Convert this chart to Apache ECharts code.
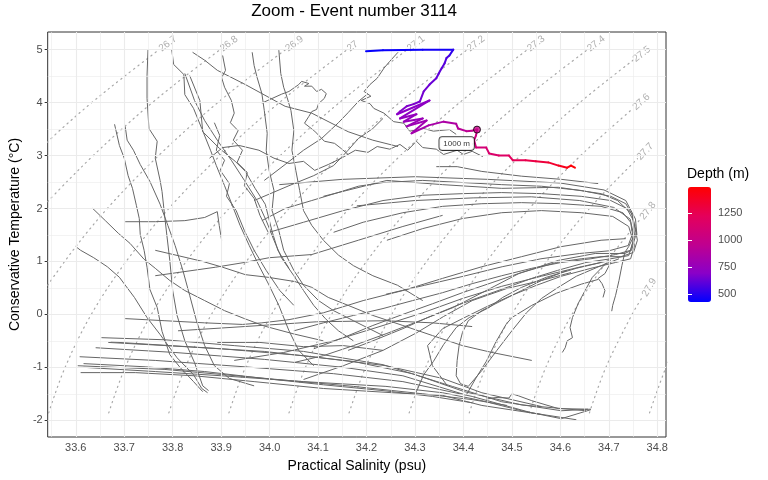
<!DOCTYPE html>
<html>
<head>
<meta charset="utf-8">
<script src="https://cdn.jsdelivr.net/npm/echarts@6/dist/echarts.min.js"></script>
<style>
  html, body { margin: 0; background: #fff; }
  #main { width: 768px; height: 480px; }
</style>
</head>
<body>
<div id="main"></div>
<script>
// axis ticks
const xTicks = [33.6, 33.7, 33.8, 33.9, 34.0, 34.1, 34.2, 34.3, 34.4, 34.5, 34.6, 34.7, 34.8];
const xMinor = [33.55, 33.65, 33.75, 33.85, 33.95, 34.05, 34.15, 34.25, 34.35, 34.45, 34.55, 34.65, 34.75];
const yTicks = [-2, -1, 0, 1, 2, 3, 4, 5];
const yMinor = [-1.5, -0.5, 0.5, 1.5, 2.5, 3.5, 4.5];
const depthTicks = [500, 750, 1000, 1250];

// density isopleths (sigma0)
const contourLevels = ['26.7', '26.8', '26.9', '27', '27.1', '27.2', '27.3', '27.4', '27.5', '27.6', '27.7', '27.8', '27.9', '28'];
const contourLines = [
  [[33.541, 3.25], [33.570, 3.5], [33.633, 4.0], [33.701, 4.5], [33.772, 5.0]],
  [[33.542, 2.13], [33.581, 2.5], [33.636, 3.0], [33.695, 3.5], [33.758, 4.0], [33.826, 4.5], [33.898, 5.0]],
  [[33.542, 0.55], [33.577, 1.0], [33.619, 1.5], [33.665, 2.0], [33.716, 2.5], [33.771, 3.0], [33.830, 3.5], [33.893, 4.0], [33.961, 4.5], [34.033, 5.0]],
  [[33.544, -1.86], [33.578, -1], [33.632, 0], [33.704, 1], [33.792, 2], [33.898, 3], [34.020, 4], [34.160, 5.0]],
  [[33.668, -1.86], [33.702, -1], [33.756, 0], [33.828, 1], [33.916, 2], [34.022, 3], [34.144, 4], [34.284, 5.0]],
  [[33.792, -1.86], [33.826, -1], [33.880, 0], [33.952, 1], [34.040, 2], [34.146, 3], [34.268, 4], [34.408, 5.0]],
  [[33.916, -1.86], [33.950, -1], [34.004, 0], [34.076, 1], [34.164, 2], [34.270, 3], [34.392, 4], [34.532, 5.0]],
  [[34.040, -1.86], [34.074, -1], [34.128, 0], [34.200, 1], [34.288, 2], [34.394, 3], [34.516, 4], [34.656, 5.0]],
  [[34.164, -1.86], [34.198, -1], [34.252, 0], [34.324, 1], [34.412, 2], [34.518, 3], [34.640, 4], [34.750, 4.8]],
  [[34.288, -1.86], [34.322, -1], [34.376, 0], [34.448, 1], [34.536, 2], [34.642, 3], [34.750, 3.89]],
  [[34.412, -1.86], [34.446, -1], [34.500, 0], [34.572, 1], [34.660, 2], [34.759, 2.94]],
  [[34.536, -1.86], [34.570, -1], [34.624, 0], [34.696, 1], [34.766, 1.81]],
  [[34.660, -1.86], [34.694, -1], [34.748, 0], [34.771, 0.35]],
  [[34.784, -1.86], [34.818, -1], [34.840, -0.6]]
];

// other profiles (grey), salinity / temperature pairs
const greyProfiles = [
  [[33.749, 5.0], [33.747, 4.51], [33.747, 4.08], [33.751, 3.51], [33.768, 3.27], [33.764, 2.95], [33.774, 2.53], [33.778, 2.32], [33.784, 1.81], [33.788, 1.49], [33.794, 1.02], [33.800, 0.45], [33.809, -0.02], [33.825, -0.50], [33.845, -0.91], [33.862, -1.35], [33.874, -1.44]],
  [[33.680, 3.59], [33.682, 3.51], [33.690, 3.19], [33.700, 2.95], [33.708, 2.62], [33.717, 2.38], [33.725, 2.06], [33.731, 1.81], [33.733, 1.51], [33.741, 1.21], [33.747, 0.89], [33.753, 0.47], [33.768, 0.13], [33.778, -0.32], [33.794, -0.76], [33.815, -1.00], [33.843, -1.27], [33.862, -1.46]],
  [[33.702, 3.55], [33.706, 3.29], [33.719, 3.10], [33.733, 2.83], [33.753, 2.51], [33.774, 2.08], [33.790, 1.68], [33.805, 1.30], [33.821, 0.83], [33.835, 0.36], [33.849, -0.12], [33.866, -0.59], [33.886, -0.97], [33.917, -1.21], [33.968, -1.35]],
  [[33.798, 5.0], [33.802, 4.72], [33.823, 4.53], [33.825, 4.15], [33.843, 3.89], [33.860, 3.51], [33.878, 3.10], [33.890, 2.81], [33.907, 2.43], [33.923, 2.06], [33.939, 1.68], [33.958, 1.30], [33.978, 0.92], [33.999, 0.55], [34.019, 0.17], [34.040, -0.31], [34.060, -0.68], [34.091, -0.97]],
  [[33.825, 4.55], [33.845, 4.04], [33.866, 3.66], [33.892, 3.29], [33.921, 2.91], [33.948, 2.53], [33.974, 2.15], [33.993, 1.77], [34.009, 1.40], [34.025, 1.06], [34.050, 0.73], [34.070, 0.45], [34.091, 0.17], [34.115, -0.08], [34.142, -0.31], [34.173, -0.50]],
  [[33.835, 4.51], [33.856, 4.04], [33.862, 3.45], [33.897, 3.13], [33.929, 2.89], [33.950, 2.70], [33.970, 2.38], [33.991, 2.08], [34.005, 1.57], [34.017, 1.21], [34.040, 0.87]],
  [[33.964, 4.95], [33.968, 4.70], [33.974, 4.48], [33.984, 4.17], [33.989, 3.85], [33.995, 3.42], [33.993, 3.10], [33.999, 2.72], [34.009, 2.34], [34.005, 1.96], [34.019, 1.58], [34.029, 1.21], [34.050, 0.83], [34.070, 0.55], [34.101, 0.26], [34.132, 0.07], [34.173, -0.12], [34.234, -0.40]],
  [[34.019, 4.99], [34.023, 4.55], [34.029, 4.29], [34.036, 4.10], [34.044, 3.85], [34.050, 3.47], [34.046, 3.10], [34.054, 2.72], [34.062, 2.34], [34.070, 1.96], [34.087, 1.68], [34.111, 1.40], [34.142, 1.12], [34.173, 0.92], [34.213, 0.73], [34.264, 0.55], [34.316, 0.26]],
  [[33.841, 4.95], [33.866, 4.80], [33.892, 4.61], [33.950, 4.34], [34.032, 3.93], [34.087, 3.80], [34.162, 3.45], [34.213, 3.29], [34.265, 3.17]],
  [[33.876, 2.95], [33.903, 3.15], [33.937, 3.19], [33.978, 3.10], [34.009, 2.95], [34.040, 2.85], [34.070, 2.89], [34.093, 2.72], [34.121, 2.83], [34.148, 2.95], [34.177, 3.10], [34.203, 3.06], [34.222, 3.17], [34.248, 3.12], [34.269, 3.21], [34.285, 3.10], [34.303, 3.27], [34.316, 3.15], [34.344, 3.12], [34.359, 3.02], [34.387, 3.10], [34.400, 3.02], [34.418, 3.08], [34.440, 2.98]],
  [[34.265, 4.95], [34.248, 4.78], [34.236, 4.65], [34.222, 4.46], [34.207, 4.34], [34.195, 4.21], [34.209, 4.12], [34.189, 4.04], [34.207, 3.98], [34.215, 3.89], [34.236, 3.80], [34.256, 3.64], [34.277, 3.61], [34.289, 3.46], [34.318, 3.51], [34.338, 3.46], [34.371, 3.49], [34.385, 3.40]],
  [[33.984, 3.99], [34.025, 4.16], [34.040, 4.21], [34.060, 4.34], [34.066, 4.40], [34.081, 4.36], [34.072, 4.31], [34.087, 4.31], [34.097, 4.21], [34.107, 4.25], [34.117, 4.17], [34.113, 4.08], [34.101, 3.98], [34.097, 3.87], [34.087, 3.83], [34.081, 3.74], [34.072, 3.61], [34.093, 3.46], [34.113, 3.27], [34.134, 3.23], [34.148, 3.13], [34.162, 3.02]],
  [[33.903, 4.89], [33.909, 4.61], [33.901, 4.47], [33.907, 4.29], [33.921, 4.04], [33.927, 3.80], [33.919, 3.62], [33.935, 3.47], [33.925, 3.29], [33.944, 3.10], [33.933, 2.87], [33.954, 2.68], [33.948, 2.43], [33.968, 2.19], [33.980, 1.87], [33.997, 1.55]],
  [[33.886, 3.62], [33.897, 3.38], [33.890, 3.10], [33.907, 2.91], [33.898, 2.72], [33.917, 2.47], [33.911, 2.23], [33.931, 1.96], [33.948, 1.58], [33.968, 1.21], [33.993, 0.83], [34.021, 0.45], [34.050, 0.17]],
  [[33.989, 2.53], [34.032, 2.83], [34.070, 3.10], [34.107, 3.32], [34.142, 3.62], [34.162, 3.81], [34.183, 4.02], [34.203, 4.17]],
  [[33.968, 2.15], [34.040, 2.43], [34.091, 2.62], [34.132, 2.81], [34.162, 3.10], [34.183, 3.32], [34.213, 3.51], [34.234, 3.70]],
  [[33.635, 2.00], [33.661, 1.77], [33.688, 1.53], [33.712, 1.34], [33.741, 1.04], [33.764, 0.87], [33.794, 0.64], [33.825, 0.45], [33.866, 0.26], [33.907, 0.07], [33.948, -0.08], [33.989, -0.22], [34.050, -0.37], [34.111, -0.50]],
  [[33.600, 1.28], [33.610, 1.21], [33.637, 1.07], [33.665, 0.90], [33.690, 0.70], [33.721, 0.32], [33.747, -0.06], [33.774, -0.38], [33.809, -0.82], [33.843, -1.14], [33.860, -1.40], [33.872, -1.48]],
  [[33.702, 1.75], [33.764, 1.75], [33.825, 1.77], [33.866, 1.83], [33.892, 1.94], [33.896, 1.68], [33.901, 1.40]],
  [[33.616, -1.00], [33.764, -1.08], [33.901, -1.16], [34.070, -1.27], [34.240, -1.36], [34.357, -1.48], [34.438, -1.63], [34.520, -1.82], [34.602, -1.97], [34.663, -1.80]],
  [[33.604, -0.97], [33.784, -1.04], [33.968, -1.19], [34.173, -1.36], [34.316, -1.50], [34.418, -1.61], [34.490, -1.72]],
  [[33.608, -0.80], [33.764, -0.87], [33.948, -0.99], [34.132, -1.12], [34.275, -1.27], [34.418, -1.55], [34.541, -1.86], [34.633, -1.99]],
  [[33.641, -0.63], [33.805, -0.72], [33.989, -0.85], [34.152, -1.00], [34.275, -1.16], [34.404, -1.52]],
  [[33.667, -0.53], [33.825, -0.61], [33.989, -0.70], [34.173, -0.89], [34.295, -1.12], [34.402, -1.46], [34.520, -1.71], [34.653, -1.82]],
  [[33.653, -0.44], [33.784, -0.48], [33.927, -0.59], [34.070, -0.70], [34.234, -0.95], [34.377, -1.36], [34.479, -1.65], [34.602, -1.82], [34.663, -1.79]],
  [[33.616, -0.93], [33.743, -0.99], [33.866, -1.08], [33.989, -1.21], [34.111, -1.33], [34.234, -1.44], [34.336, -1.55], [34.418, -1.67]],
  [[33.610, -1.10], [33.723, -1.10], [33.845, -1.16], [33.968, -1.27], [34.111, -1.40], [34.254, -1.48], [34.357, -1.53], [34.438, -1.72], [34.561, -1.89]],
  [[33.672, -0.52], [33.901, -0.65], [34.070, -0.78], [34.240, -0.97], [34.357, -1.21], [34.438, -1.48], [34.561, -1.74]],
  [[33.811, -0.31], [33.948, -0.23], [34.097, -0.14], [34.240, -0.12], [34.336, -0.16], [34.418, -0.23]],
  [[33.892, -0.53], [33.980, -0.53], [34.070, -0.61], [34.152, -0.59], [34.234, -0.68]],
  [[34.447, -1.60], [34.467, -1.57], [34.494, -1.58], [34.500, -1.50], [34.514, -1.54], [34.541, -1.63], [34.596, -1.78], [34.657, -1.79]],
  [[34.344, 2.79], [34.387, 2.79], [34.438, 2.70], [34.520, 2.61], [34.602, 2.55], [34.678, 2.47]],
  [[33.984, 1.77], [34.032, 2.00], [34.087, 2.15], [34.134, 2.28], [34.183, 2.42], [34.234, 2.49], [34.316, 2.53], [34.398, 2.49], [34.479, 2.45], [34.561, 2.42], [34.643, 2.34], [34.704, 2.23], [34.735, 2.09], [34.749, 1.87], [34.753, 1.49], [34.745, 1.21], [34.714, 1.13], [34.663, 1.05], [34.602, 0.98], [34.541, 0.87], [34.479, 0.73], [34.418, 0.58], [34.357, 0.41], [34.295, 0.26], [34.234, 0.11], [34.173, -0.02], [34.111, -0.16], [34.050, -0.31]],
  [[33.999, 1.55], [34.070, 1.74], [34.152, 1.96], [34.234, 2.15], [34.316, 2.25], [34.398, 2.28], [34.479, 2.30], [34.561, 2.28], [34.643, 2.23], [34.704, 2.15], [34.737, 2.00], [34.751, 1.77], [34.759, 1.40], [34.751, 1.17], [34.725, 1.09], [34.684, 1.09], [34.643, 1.05], [34.592, 0.98], [34.520, 0.79], [34.459, 0.60], [34.398, 0.41], [34.336, 0.20], [34.275, 0.00], [34.213, -0.21], [34.152, -0.44], [34.091, -0.65]],
  [[34.132, 1.55], [34.193, 1.74], [34.275, 1.92], [34.357, 2.04], [34.438, 2.09], [34.520, 2.11], [34.602, 2.09], [34.684, 2.04], [34.729, 1.92], [34.745, 1.74], [34.751, 1.40], [34.741, 1.11], [34.704, 1.05], [34.653, 0.98], [34.594, 0.83], [34.541, 0.68], [34.490, 0.51], [34.438, 0.34], [34.387, 0.17], [34.326, -0.06], [34.275, -0.27], [34.213, -0.50], [34.162, -0.68]],
  [[34.242, 1.40], [34.316, 1.62], [34.398, 1.81], [34.479, 1.92], [34.561, 1.96], [34.643, 1.92], [34.708, 1.85], [34.741, 1.66], [34.753, 1.30], [34.745, 1.05], [34.714, 0.98], [34.663, 0.87], [34.602, 0.72], [34.551, 0.55], [34.500, 0.36], [34.449, 0.15], [34.398, -0.08], [34.357, -0.27], [34.326, -0.59], [34.336, -0.97], [34.367, -1.35]],
  [[34.111, 2.23], [34.242, 2.53], [34.357, 2.45], [34.479, 2.38], [34.596, 2.40], [34.684, 2.28], [34.718, 2.15], [34.747, 1.90], [34.757, 1.55], [34.747, 1.21], [34.733, 1.15], [34.672, 1.15], [34.596, 1.02], [34.514, 0.77], [34.447, 0.45], [34.379, 0.13], [34.310, -0.12], [34.242, -0.36], [34.173, -0.59], [34.111, -0.78], [34.050, -0.91]],
  [[34.020, 2.45], [34.150, 2.55], [34.300, 2.60], [34.450, 2.55], [34.600, 2.48], [34.690, 2.35], [34.735, 2.15], [34.755, 1.80], [34.758, 1.50]],
  [[34.180, 2.05], [34.300, 2.15], [34.420, 2.20], [34.540, 2.22], [34.640, 2.15], [34.710, 2.02], [34.744, 1.80], [34.750, 1.55], [34.740, 1.30], [34.700, 1.20], [34.640, 1.15], [34.560, 1.05], [34.480, 0.90], [34.400, 0.72], [34.320, 0.55], [34.240, 0.38]],
  [[34.751, 1.47], [34.741, 1.28], [34.733, 1.17], [34.727, 0.92], [34.721, 0.64], [34.714, 0.36], [34.708, 0.17], [34.706, 0.06]],
  [[34.704, 0.98], [34.692, 0.77], [34.678, 0.68], [34.686, 0.58], [34.692, 0.45], [34.688, 0.32]],
  [[34.696, 0.98], [34.666, 0.70], [34.651, 0.45], [34.637, 0.21], [34.625, -0.06], [34.620, -0.25], [34.625, -0.44], [34.614, -0.50], [34.610, -0.63], [34.604, -0.72]],
  [[34.614, 0.83], [34.561, 0.64], [34.520, 0.45], [34.479, 0.26], [34.438, 0.07], [34.410, -0.12], [34.398, -0.34], [34.391, -0.59], [34.387, -0.87], [34.385, -1.16], [34.394, -1.31], [34.410, -1.36], [34.438, -1.06], [34.469, -0.68], [34.500, -0.31], [34.530, 0.03], [34.561, 0.30], [34.592, 0.49], [34.633, 0.72], [34.684, 0.92], [34.721, 1.05]],
  [[33.702, -0.08], [33.784, -0.12], [33.866, -0.16], [33.944, -0.19], [33.984, -0.16], [34.040, -0.10], [34.111, 0.03], [34.193, 0.26], [34.275, 0.45], [34.357, 0.68], [34.438, 0.90], [34.520, 1.09], [34.602, 1.28], [34.684, 1.40], [34.735, 1.43]],
  [[33.764, 0.73], [33.888, 0.89], [33.948, 0.98], [33.999, 1.07], [34.087, 1.13], [34.183, 1.40], [34.275, 1.66], [34.357, 1.87]],
  [[33.764, 1.21], [33.862, 1.00], [33.903, 0.89], [33.950, 0.75], [33.997, 0.70], [34.052, 0.62], [34.087, 0.51], [34.121, 0.32], [34.162, 0.17], [34.213, -0.02], [34.275, -0.21], [34.336, -0.40], [34.398, -0.59], [34.459, -0.72], [34.541, -0.87]],
  [[33.927, -0.87], [34.029, -0.72], [34.132, -0.50], [34.234, -0.21], [34.316, 0.03], [34.398, 0.30], [34.479, 0.53], [34.561, 0.72], [34.643, 0.90], [34.704, 1.02]],
  [[34.070, -1.23], [34.152, -0.97], [34.234, -0.68], [34.303, -0.35], [34.359, -0.04], [34.418, 0.26], [34.490, 0.49], [34.561, 0.64], [34.622, 0.79]],
  [[34.303, -1.46], [34.318, -1.14], [34.338, -0.89], [34.359, -0.57], [34.385, -0.25], [34.412, -0.06], [34.453, 0.13], [34.481, 0.32], [34.520, 0.51], [34.571, 0.70], [34.633, 0.87], [34.684, 0.98]],
  [[34.406, -1.52], [34.426, -1.20], [34.447, -0.89], [34.467, -0.52], [34.488, -0.19], [34.500, -0.06], [34.541, 0.17], [34.592, 0.40], [34.643, 0.57], [34.678, 0.66]]
];

// highlighted event profile
const hlSalinity = [34.199, 34.234, 34.316, 34.379, 34.371, 34.365, 34.361, 34.355, 34.349, 34.344, 34.330, 34.318, 34.310, 34.297, 34.283, 34.269, 34.263, 34.330, 34.269, 34.303, 34.277, 34.316, 34.283, 34.324, 34.293, 34.328, 34.359, 34.385, 34.389, 34.406, 34.418, 34.428, 34.426, 34.422, 34.426, 34.447, 34.453, 34.473, 34.494, 34.502, 34.528, 34.549, 34.575, 34.596, 34.614, 34.622, 34.630];
const hlTemp = [4.97, 4.99, 5.00, 5.00, 4.89, 4.84, 4.74, 4.65, 4.55, 4.46, 4.34, 4.21, 4.02, 3.97, 3.93, 3.83, 3.78, 4.04, 3.70, 3.78, 3.64, 3.70, 3.55, 3.66, 3.42, 3.57, 3.64, 3.60, 3.51, 3.46, 3.47, 3.49, 3.38, 3.29, 3.15, 3.15, 3.04, 3.00, 3.00, 2.91, 2.91, 2.89, 2.87, 2.81, 2.77, 2.81, 2.77];
const hlDepth = [430, 440, 455, 470, 560, 575, 590, 600, 610, 620, 632, 644, 656, 666, 676, 686, 695, 710, 725, 740, 755, 770, 785, 800, 815, 830, 850, 875, 900, 940, 970, 1000, 1020, 1040, 1070, 1100, 1130, 1160, 1190, 1220, 1260, 1290, 1330, 1380, 1430, 1460, 1490];
const labelDepth = 1000;
const depthRange = [426, 1491];

const X_MIN = 33.542, X_MAX = 34.818, Y_MIN = -2.316, Y_MAX = 5.333;
const FONT = '"Liberation Sans", Arial, Helvetica, sans-serif';

const chart = echarts.init(document.getElementById('main'));

const gridMarks = [].concat(
  xMinor.map(v => ({ xAxis: v, lineStyle: { width: 0.6 } })),
  yMinor.map(v => ({ yAxis: v, lineStyle: { width: 0.6 } })),
  xTicks.map(v => ({ xAxis: v })),
  yTicks.map(v => ({ yAxis: v }))
);

const series = [];
series.push({
  type: 'line', data: [], silent: true, z: 1, animation: false,
  markLine: {
    silent: true, symbol: ['none', 'none'], label: { show: false }, animation: false,
    lineStyle: { color: '#ebebeb', width: 1.1, type: 'solid' },
    emphasis: { disabled: true },
    data: gridMarks
  }
});

contourLines.forEach(pts => {
  series.push({
    type: 'line', data: pts, smooth: 0.35, symbol: 'none', silent: true, z: 2, animation: false,
    lineStyle: { color: '#a8a8a8', width: 1.2, type: [1.2, 4.2], cap: 'round' }
  });
});

const labelData = contourLines
  .map((pts, i) => ({ name: contourLevels[i], value: pts[pts.length - 1] }))
  .filter(d => d.value[0] <= X_MAX && d.value[1] <= Y_MAX);

series.push({
  id: 'clabels', type: 'scatter', data: labelData, symbolSize: 0.1, silent: true, z: 2, animation: false,
  itemStyle: { color: 'rgba(0,0,0,0)' },
  label: { show: true, formatter: '{b}', position: 'right', distance: 1, color: '#9a9a9a', fontSize: 10 }
});

greyProfiles.forEach(pts => {
  series.push({
    type: 'line', data: pts, symbol: 'none', silent: true, z: 3, animation: false,
    lineStyle: { color: '#666666', width: 1 }
  });
});

const hlSegments = hlSalinity.slice(1).map((s, i) =>
  [hlSalinity[i], hlTemp[i], (hlDepth[i] + hlDepth[i + 1]) / 2, s, hlTemp[i + 1]]);

const hlIndex = series.length;
series.push({
  type: 'custom', data: hlSegments, encode: { x: [0, 3], y: [1, 4] }, silent: true, z: 5,
  animation: false, clip: true,
  renderItem: function (params, api) {
    const p1 = api.coord([api.value(0), api.value(1)]);
    const p2 = api.coord([api.value(3), api.value(4)]);
    return {
      type: 'line',
      shape: { x1: p1[0], y1: p1[1], x2: p2[0], y2: p2[1] },
      style: { stroke: api.visual('color'), lineWidth: 2, lineCap: 'round' }
    };
  }
});

const k = hlDepth.indexOf(labelDepth);
const markIndex = series.length;
series.push({
  type: 'scatter', data: [[hlSalinity[k], hlTemp[k], labelDepth]], symbolSize: 7, silent: true, z: 6,
  animation: false,
  itemStyle: { borderColor: '#000', borderWidth: 1 },
  label: {
    show: true, formatter: labelDepth + ' m', position: 'left', distance: 0, offset: [1, 14],
    fontSize: 8, color: '#000', backgroundColor: '#fff', borderColor: '#000', borderWidth: 0.8,
    borderRadius: 3, padding: [3, 4, 2, 4]
  }
});

const option = {
  animation: false,
  textStyle: { fontFamily: FONT },
  title: [
    { text: 'Zoom - Event number 3114', left: 354, top: 3, textAlign: 'center', padding: 0,
      textStyle: { fontSize: 17, fontWeight: 'normal', color: '#000', fontFamily: FONT } },
    { text: 'Depth (m)', left: 687, top: 167, padding: 0,
      textStyle: { fontSize: 14, fontWeight: 'normal', color: '#000', fontFamily: FONT } }
  ],
  grid: [
    { left: 42, top: 32, right: 102, bottom: 43, show: true, borderColor: '#333333', borderWidth: 1, backgroundColor: 'transparent' },
    { left: 688, top: 187, width: 23, height: 115, show: false }
  ],
  xAxis: [
    {
      type: 'value', min: X_MIN, max: X_MAX, minInterval: 0.1, maxInterval: 0.1,
      splitLine: { show: false }, axisLine: { show: false },
      axisTick: { show: true, length: 3, lineStyle: { color: '#333333' }, customValues: xTicks },
      axisLabel: { customValues: xTicks, color: '#4d4d4d', fontSize: 11, margin: 5, formatter: v => v.toFixed(1) },
      name: 'Practical Salinity (psu)', nameLocation: 'middle', nameGap: 22,
      nameTextStyle: { fontSize: 14, color: '#000' }
    },
    { gridIndex: 1, type: 'value', min: 0, max: 1, show: false }
  ],
  yAxis: [
    {
      type: 'value', min: Y_MIN, max: Y_MAX, minInterval: 1, maxInterval: 1,
      splitLine: { show: false }, axisLine: { show: false },
      axisTick: { show: true, length: 3, lineStyle: { color: '#333333' }, customValues: yTicks },
      axisLabel: { customValues: yTicks, color: '#4d4d4d', fontSize: 11, margin: 5, formatter: v => String(v) },
      name: 'Conservative Temperature (°C)', nameLocation: 'middle', nameGap: 21,
      nameTextStyle: { fontSize: 14, color: '#000' }
    },
    {
      gridIndex: 1, type: 'value', min: depthRange[0], max: depthRange[1], position: 'right', z: 10,
      axisLine: { show: false }, splitLine: { show: false },
      axisTick: { show: true, inside: true, length: 4, lineStyle: { color: '#ffffff', width: 1 }, customValues: depthTicks },
      axisLabel: { customValues: depthTicks, color: '#4d4d4d', fontSize: 11, margin: 7, formatter: v => String(v) }
    },
    {
      gridIndex: 1, type: 'value', min: depthRange[0], max: depthRange[1], position: 'left', z: 10,
      axisLine: { show: false }, splitLine: { show: false }, axisLabel: { show: false },
      axisTick: { show: true, inside: true, length: 4, lineStyle: { color: '#ffffff', width: 1 }, customValues: depthTicks }
    }
  ],
  visualMap: {
    type: 'continuous', min: depthRange[0], max: depthRange[1], dimension: 2, z: 1,
    seriesIndex: [hlIndex, markIndex], left: 688, top: 187, itemWidth: 23, itemHeight: 115,
    padding: 0, calculable: false, hoverLink: false, show: true,
    inRange: { color: ['#0000ff', '#8a00c8', '#c0008f', '#e5005a', '#ff0000'] }
  },
  series: series
};

chart.setOption(option);

// rotate contour labels along the end of each isopleth
const rotated = labelData.map(d => {
  const pts = contourLines[contourLevels.indexOf(d.name)];
  const a = chart.convertToPixel({ gridIndex: 0 }, pts[pts.length - 2]);
  const b = chart.convertToPixel({ gridIndex: 0 }, pts[pts.length - 1]);
  const ang = Math.atan2(a[1] - b[1], b[0] - a[0]) * 180 / Math.PI;
  return { name: d.name, value: d.value, label: { rotate: ang } };
});
chart.setOption({ series: [{ id: 'clabels', data: rotated }] });
</script>
</body>
</html>
